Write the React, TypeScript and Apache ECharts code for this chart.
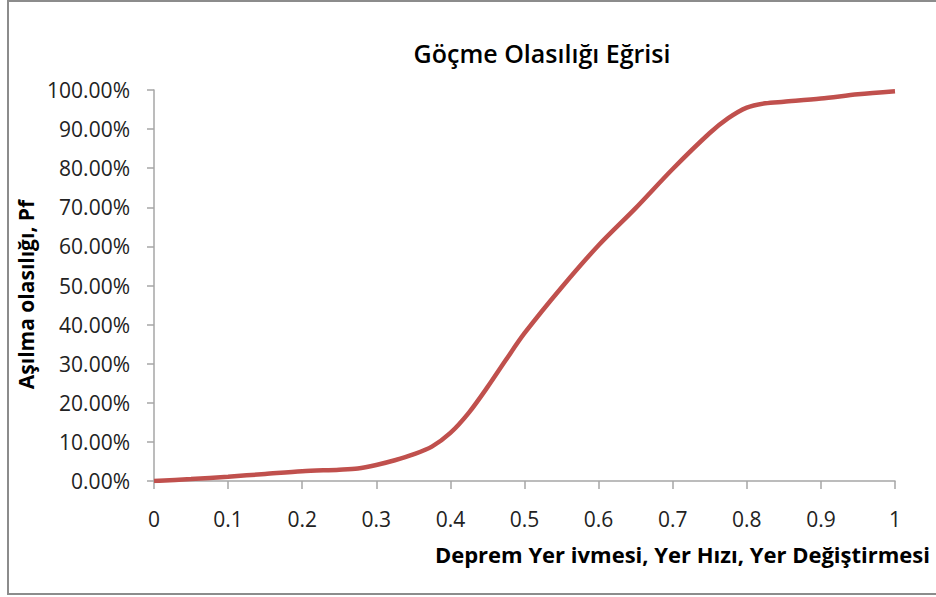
import React, { useEffect, useRef } from "react";
import * as echarts from "echarts";

// Ground motion intensity (x) and exceedance probability in percent (y)
const intensity = [0, 0.05, 0.1, 0.15, 0.2, 0.25, 0.275, 0.3, 0.325, 0.35, 0.375, 0.4, 0.425, 0.45, 0.475, 0.5, 0.55, 0.6, 0.65, 0.7, 0.75, 0.775, 0.8, 0.825, 0.85, 0.9, 0.95, 1];
const probability = [0, 0.5, 1.1, 1.8, 2.5, 2.9, 3.2, 4.1, 5.3, 6.8, 8.8, 12.3, 17.5, 24, 31, 37.8, 49.5, 60.3, 69.8, 79.8, 89, 92.8, 95.5, 96.6, 97.0, 97.8, 98.9, 99.7];

const titleText = "Göçme Olasılığı Eğrisi";
const xName = "Deprem Yer ivmesi, Yer Hızı, Yer Değiştirmesi";
const yName = "Aşılma olasılığı, Pf";

const FONT = "'Open Sans', 'Noto Sans', sans-serif";

export default function App() {
  const ref = useRef<HTMLDivElement>(null);

  useEffect(() => {
    if (!ref.current) return;
    const chart = echarts.init(ref.current, undefined, { renderer: "svg" });
    const axisColor = "#a6a6a6";
    const axisLine = { show: true, lineStyle: { color: axisColor, width: 1.5 } };
    chart.setOption({
      animation: false,
      backgroundColor: "#ffffff",
      title: {
        text: titleText,
        left: 537,
        top: 35,
        textAlign: "center",
        textStyle: { fontFamily: FONT, fontSize: 25, fontWeight: 600, color: "#000" },
      },
      graphic: [
        {
          type: "rect",
          shape: { x: 8, y: 1, width: 940, height: 593 },
          style: { fill: "none", stroke: "#8c8c8c", lineWidth: 2 },
          silent: true,
        },
      ],
      grid: { left: 154, right: 41, top: 90, bottom: 116, containLabel: false },
      xAxis: {
        type: "value",
        min: 0,
        max: 1,
        interval: 0.1,
        name: xName,
        nameLocation: "end",
        nameGap: 0,
        nameTextStyle: {
          fontFamily: FONT,
          fontSize: 22,
          fontWeight: "bold",
          color: "#000",
          align: "right",
          verticalAlign: "top",
          padding: [62, -35, 0, 0],
        },
        axisLine,
        axisTick: { show: true, length: 8, lineStyle: { color: axisColor, width: 1.5 } },
        splitLine: { show: false },
        axisLabel: {
          margin: 27,
          fontFamily: FONT,
          fontSize: 21,
          color: "#222",
          formatter: (v: number) => String(Math.round(v * 10) / 10),
        },
      },
      yAxis: {
        type: "value",
        min: 0,
        max: 100,
        interval: 10,
        name: yName,
        nameLocation: "middle",
        nameGap: 110,
        nameRotate: 90,
        nameTextStyle: {
          fontFamily: FONT,
          fontSize: 21,
          fontWeight: "bold",
          color: "#000",
          padding: [0, 18, 0, 0],
        },
        axisLine,
        axisTick: { show: true, length: 7, lineStyle: { color: axisColor, width: 1.5 } },
        splitLine: { show: false },
        axisLabel: {
          margin: 24,
          fontFamily: FONT,
          fontSize: 21,
          color: "#222",
          formatter: (v: number) => v.toFixed(2) + "%",
        },
      },
      series: [
        {
          type: "line",
          data: intensity.map((x, i) => [x, probability[i]]),
          smooth: 0.3,
          showSymbol: false,
          lineStyle: { color: "#c0504d", width: 4.5 },
        },
      ],
    });
    return () => chart.dispose();
  }, []);

  return (
    <div
      ref={ref}
      style={{ position: "absolute", left: 0, top: 0, width: 936, height: 597 }}
    />
  );
}
